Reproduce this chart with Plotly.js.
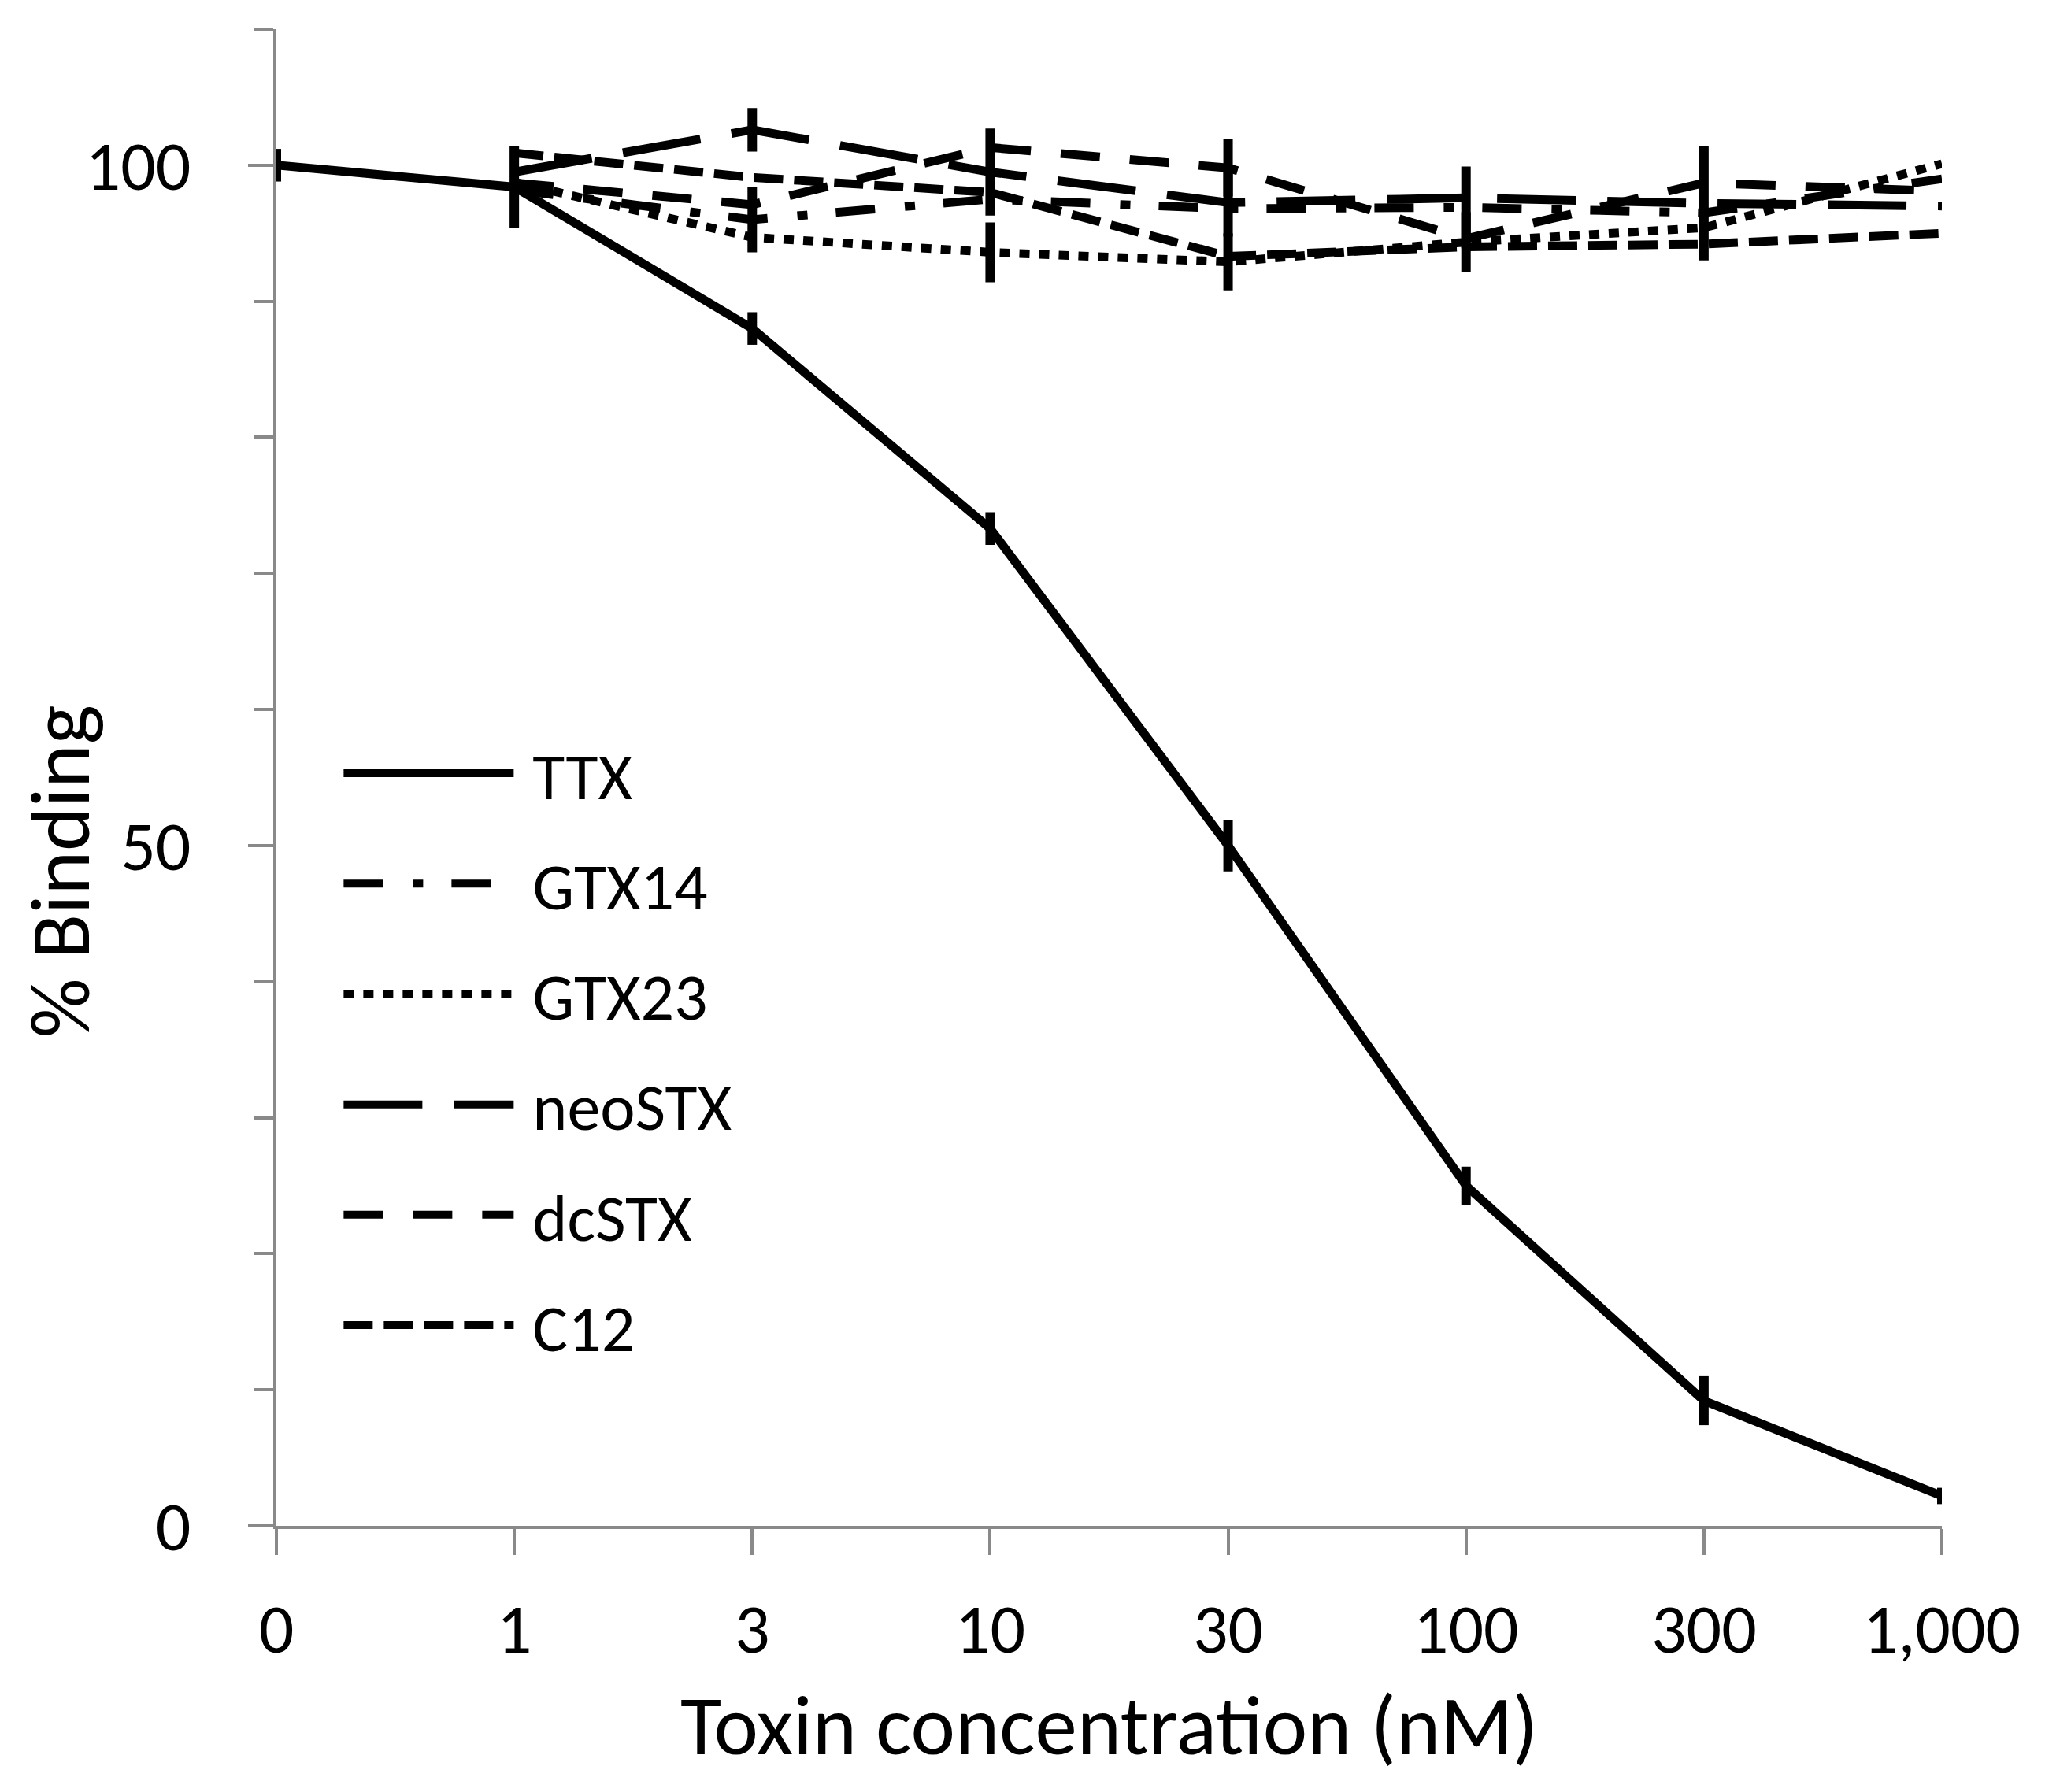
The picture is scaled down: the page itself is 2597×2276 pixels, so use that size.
<!DOCTYPE html>
<html><head><meta charset="utf-8">
<script src="https://cdn.plot.ly/plotly-3.0.1.min.js"></script>
<style>html,body{margin:0;padding:0;background:#fff}</style>
</head><body><div id="chart" style="width:2597px;height:2276px"></div>
<script>
// Data (x categories are toxin concentrations in nM)
const categories = ['0', '1', '3', '10', '30', '100', '300', '1,000'];
const seriesNames = ['TTX', 'GTX14', 'GTX23', 'neoSTX', 'dcSTX', 'C12'];
const ttx      = [100, 98.4, 88.0, 73.3, 50.0, 25.0, 9.2, 2.2];
const ttxErr   = [1.2, 3.0, 1.2, 1.2, 1.9, 1.4, 1.8, 0.6];
const gtx14    = [null, 98.2, 96.0, 97.5, 96.8, 96.9, 96.5, 99.0];
const gtx14Err = [0, 0, 2.4, 0, 0, 3.0, 0, 0];
const gtx23    = [null, 98.75, 94.7, 93.6, 92.9, 94.35, 95.4, 100.1];
const gtx23Err = [0, 0, 0, 2.2, 2.1, 2.2, 0, 0];
const neostx   = [null, 99.5, 102.6, 99.5, 97.25, 97.6, 97.2, 97.0];
const neostxErr= [0, 0, 1.6, 3.2, 2.5, 0, 4.2, 0];
const dcstx    = [null, 98.7, 97.1, 101.3, 99.8, 94.6, 98.7, 98.1];
const dcstxErr = [0, 0, 0, 0, 2.1, 0, 0, 0];
const c12      = [null, 100.9, 99.1, 98.0, 93.3, 94.0, 94.2, 95.0];
const c12Err   = [0, 0, 0, 0, 0, 0, 0, 0];

const values = [ttx, gtx14, gtx23, neostx, dcstx, c12];
const errors = [ttxErr, gtx14Err, gtx23Err, neostxErr, dcstxErr, c12Err];
const dashes = ['solid', '50px,38px,13px,36px', '13px,12px', '100px,40px', '50px,38px', '37px,14px'];

const FONT = 'Carlito, Calibri, Lato, sans-serif';
const AXIS = '#898989';

const traces = seriesNames.map((name, i) => ({
  type: 'scatter',
  mode: 'lines',
  name: '\u00a0' + name,
  legendgroup: name,
  x: categories,
  y: values[i],
  line: {color: '#000', width: 11, dash: dashes[i]},
  error_y: {type: 'data', array: errors[i], visible: true, width: 0, thickness: 12, color: '#000'},
  connectgaps: false,
  hoverinfo: 'x+y+name'
}));

const layout = {
  width: 2597, height: 2276,
  margin: {l: 351, r: 131, t: 37, b: 338},
  paper_bgcolor: '#fff', plot_bgcolor: '#fff',
  font: {family: FONT, color: '#000', size: 88},
  showlegend: true,
  legend: {
    x: 0.038, y: 0.535, xanchor: 'left', yanchor: 'top',
    bgcolor: 'rgba(0,0,0,0)', borderwidth: 0,
    font: {family: FONT, size: 84, color: '#000'},
    itemwidth: 216, tracegroupgap: 28, traceorder: 'grouped'
  },
  xaxis: {
    type: 'category', categoryorder: 'array', categoryarray: categories,
    range: [0, 7],
    showline: true, linecolor: AXIS, linewidth: 4,
    ticks: 'outside', ticklen: 33, tickwidth: 4, tickcolor: AXIS,
    showgrid: false, zeroline: false,
    tickfont: {family: FONT, size: 88, color: '#000'},
    ticklabelstandoff: 18,
    title: {text: 'Toxin concentration (nM)', font: {family: FONT, size: 107, color: '#000'}, standoff: 32},
    fixedrange: true
  },
  yaxis: {
    range: [0, 110],
    tickmode: 'linear', tick0: 0, dtick: 50,
    showline: true, linecolor: AXIS, linewidth: 4,
    ticks: 'outside', ticklen: 32, tickwidth: 4, tickcolor: AXIS,
    minor: {dtick: 10, tick0: 0, ticks: 'outside', ticklen: 24, tickwidth: 4, tickcolor: AXIS, showgrid: false},
    showgrid: false, zeroline: false,
    tickfont: {family: FONT, size: 88, color: '#000'},
    ticklabelstandoff: 55,
    fixedrange: true
  },
  annotations: [{
    text: '% Binding', xref: 'paper', yref: 'paper',
    x: -0.130, y: 0.437, xanchor: 'center', yanchor: 'middle',
    textangle: -90, showarrow: false,
    font: {family: FONT, size: 106, color: '#000'}
  }]
};

Plotly.newPlot('chart', traces, layout, {displayModeBar: false, staticPlot: true});
</script>
</body></html>
